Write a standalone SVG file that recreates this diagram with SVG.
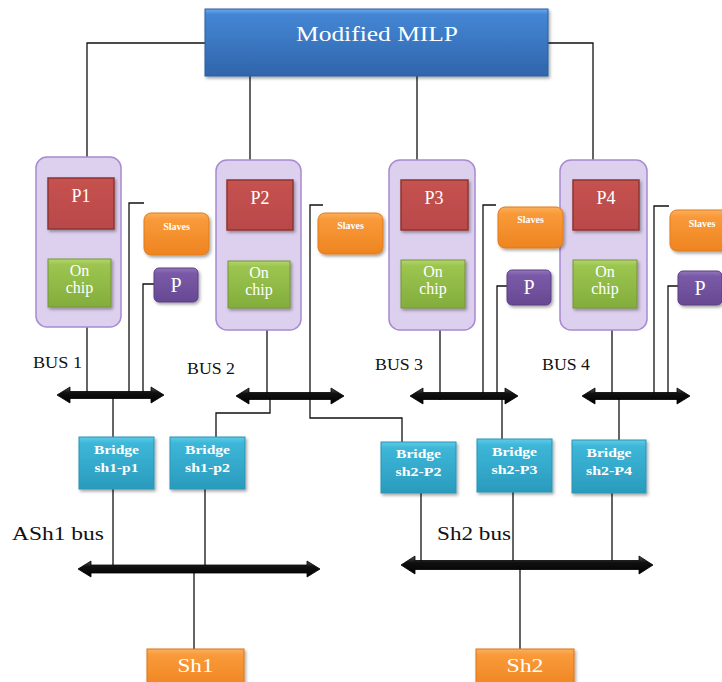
<svg xmlns="http://www.w3.org/2000/svg" width="722" height="682" viewBox="0 0 722 682">
  <defs>
    <linearGradient id="gBlue" x1="0" y1="0" x2="0" y2="1">
      <stop offset="0" stop-color="#6aa9ec"/>
      <stop offset="0.08" stop-color="#4486d4"/>
      <stop offset="1" stop-color="#2f65ab"/>
    </linearGradient>
    <linearGradient id="gRed" x1="0" y1="0" x2="0" y2="1">
      <stop offset="0" stop-color="#c6524f"/>
      <stop offset="1" stop-color="#b9494a"/>
    </linearGradient>
    <linearGradient id="gGreen" x1="0" y1="0" x2="0" y2="1">
      <stop offset="0" stop-color="#b4d56a"/>
      <stop offset="0.12" stop-color="#9cc550"/>
      <stop offset="1" stop-color="#83ad3c"/>
    </linearGradient>
    <linearGradient id="gOrange" x1="0" y1="0" x2="0" y2="1">
      <stop offset="0" stop-color="#fbb060"/>
      <stop offset="0.15" stop-color="#f99a3a"/>
      <stop offset="1" stop-color="#ee8420"/>
    </linearGradient>
    <linearGradient id="gPurple" x1="0" y1="0" x2="0" y2="1">
      <stop offset="0" stop-color="#9277bb"/>
      <stop offset="0.15" stop-color="#7a5aa8"/>
      <stop offset="1" stop-color="#674892"/>
    </linearGradient>
    <linearGradient id="gTeal" x1="0" y1="0" x2="0" y2="1">
      <stop offset="0" stop-color="#5fcbe6"/>
      <stop offset="0.12" stop-color="#3db6d8"/>
      <stop offset="1" stop-color="#2a9bbd"/>
    </linearGradient>
    <linearGradient id="gBus" x1="0" y1="0" x2="0" y2="1">
      <stop offset="0" stop-color="#555"/>
      <stop offset="0.35" stop-color="#111"/>
      <stop offset="1" stop-color="#000"/>
    </linearGradient>
    <filter id="shadow" x="-20%" y="-20%" width="140%" height="150%">
      <feDropShadow dx="1.5" dy="2" stdDeviation="1.5" flood-color="#000" flood-opacity="0.35"/>
    </filter>
  </defs>
  <style>
    .wire { fill: none; stroke: #111; stroke-width: 1.3; }
    .container { fill: #ddd0ef; stroke: #a68bcf; stroke-width: 1.5; }
    .cpu { fill: url(#gRed); stroke: #8e3533; stroke-width: 1.5; filter: url(#shadow); }
    .mem { fill: url(#gGreen); stroke: #76933a; stroke-width: 1; filter: url(#shadow); }
    .slave { fill: url(#gOrange); stroke: #e07a1a; stroke-width: 1; filter: url(#shadow); }
    .per { fill: url(#gPurple); stroke: #5a3f82; stroke-width: 1; filter: url(#shadow); }
    .bridge { fill: url(#gTeal); stroke: #2a94b5; stroke-width: 1; filter: url(#shadow); }
    .shared { fill: url(#gOrange); stroke: #d87616; stroke-width: 1; filter: url(#shadow); }
    .bus { fill: url(#gBus); stroke: #000; stroke-width: 0.8; }
    .w { fill: #fff; font-family: "Liberation Serif", "Times New Roman", serif; text-anchor: middle; }
    .lbl { fill: #111; font-family: "Liberation Serif", "Times New Roman", serif; }
    .chip { font-size: 16px; }
    .slv { font-size: 10px; font-weight: bold; }
    .brg { font-size: 13px; font-weight: bold; }
  </style>

  <!-- connectors -->
  <g id="connectors">
    <polyline class="wire" points="205,43 87,43 87,157"/>
    <polyline class="wire" points="548,43 593,43 593,160"/>
    <line class="wire" x1="250" y1="76" x2="250" y2="160"/>
    <line class="wire" x1="417" y1="76" x2="417" y2="160"/>

    <line class="wire" x1="79" y1="229" x2="79" y2="259"/>
    <line class="wire" x1="260" y1="230" x2="260" y2="261"/>
    <line class="wire" x1="433" y1="230" x2="433" y2="260"/>
    <line class="wire" x1="607" y1="230" x2="607" y2="260"/>

    <line class="wire" x1="87" y1="327" x2="87" y2="395"/>
    <polyline class="wire" points="144,203 129,203 129,395"/>
    <polyline class="wire" points="154,284 143,284 143,395"/>

    <line class="wire" x1="267" y1="330" x2="267" y2="396"/>
    <polyline class="wire" points="323,205 310,205 310,418 402,418 402,442"/>

    <line class="wire" x1="440" y1="330" x2="440" y2="400"/>
    <polyline class="wire" points="496,205 483,205 483,396"/>
    <polyline class="wire" points="507,286 497,286 497,396"/>

    <line class="wire" x1="612" y1="330" x2="612" y2="396"/>
    <polyline class="wire" points="669,206 654,206 654,396"/>
    <polyline class="wire" points="678,286 668,286 668,396"/>

    <line class="wire" x1="113" y1="395" x2="113" y2="437"/>
    <polyline class="wire" points="270,396 270,413 216,413 216,437"/>
    <line class="wire" x1="502" y1="396" x2="502" y2="439"/>
    <line class="wire" x1="619" y1="396" x2="619" y2="440"/>

    <line class="wire" x1="113" y1="489" x2="113" y2="569"/>
    <line class="wire" x1="205" y1="489" x2="205" y2="569"/>
    <line class="wire" x1="194" y1="569" x2="194" y2="649"/>

    <line class="wire" x1="421" y1="493" x2="421" y2="565"/>
    <line class="wire" x1="513" y1="492" x2="513" y2="565"/>
    <line class="wire" x1="612" y1="493" x2="612" y2="565"/>
    <line class="wire" x1="520" y1="565" x2="520" y2="649"/>

    <!-- double-headed bus arrows -->
    <polygon class="bus" points="57,395 70,387 70,391.5 151,391.5 151,387 164,395 151,403 151,398.5 70,398.5 70,403"/>
    <polygon class="bus" points="236,396 249,388 249,392.5 331,392.5 331,388 344,396 331,404 331,399.5 249,399.5 249,404"/>
    <polygon class="bus" points="410,396 423,388 423,392.5 505,392.5 505,388 518,396 505,404 505,399.5 423,399.5 423,404"/>
    <polygon class="bus" points="582,396 595,388 595,392.5 677,392.5 677,388 690,396 677,404 677,399.5 595,399.5 595,404"/>
    <polygon class="bus" points="78,569 91,561 91,565 307,565 307,561 320,569 307,577 307,573 91,573 91,577"/>
    <polygon class="bus" points="401,565 415,556 415,560.5 639,560.5 639,556 653,565 639,574 639,569.5 415,569.5 415,574"/>
  </g>

  <!-- bus labels -->
  <text class="lbl" x="33" y="368" font-size="17" textLength="49" lengthAdjust="spacingAndGlyphs">BUS 1</text>
  <text class="lbl" x="187" y="374" font-size="17" textLength="48" lengthAdjust="spacingAndGlyphs">BUS 2</text>
  <text class="lbl" x="375" y="370" font-size="17" textLength="48" lengthAdjust="spacingAndGlyphs">BUS 3</text>
  <text class="lbl" x="542" y="370" font-size="17" textLength="48" lengthAdjust="spacingAndGlyphs">BUS 4</text>
  <text class="lbl" x="12" y="540" font-size="19" textLength="92" lengthAdjust="spacingAndGlyphs">ASh1 bus</text>
  <text class="lbl" x="437" y="540" font-size="19" textLength="74" lengthAdjust="spacingAndGlyphs">Sh2 bus</text>

  <!-- top-level solver -->
  <g id="milp">
    <rect x="205" y="9" width="343" height="67" fill="url(#gBlue)" stroke="#2d5f9e" stroke-width="1" filter="url(#shadow)"/>
    <text class="w" x="377" y="41" font-size="21" textLength="162" lengthAdjust="spacingAndGlyphs">Modified MILP</text>
  </g>

  <!-- processor clusters -->
  <g id="cluster1">
    <rect class="container" x="36" y="157" width="85" height="170" rx="11"/>
    <rect class="cpu" x="48" y="178" width="66" height="51"/>
    <text class="w" x="81" y="202" font-size="18">P1</text>
    <rect class="mem" x="48" y="259" width="63" height="48"/>
    <text class="w chip" x="79.5" y="276">On</text>
    <text class="w chip" x="79.5" y="293">chip</text>
  </g>
  <g id="cluster2">
    <rect class="container" x="216" y="160" width="85" height="170" rx="11"/>
    <rect class="cpu" x="227" y="180" width="66" height="50"/>
    <text class="w" x="260" y="204" font-size="18">P2</text>
    <rect class="mem" x="228" y="261" width="62" height="47"/>
    <text class="w chip" x="259" y="278">On</text>
    <text class="w chip" x="259" y="295">chip</text>
  </g>
  <g id="cluster3">
    <rect class="container" x="389" y="160" width="86" height="170" rx="11"/>
    <rect class="cpu" x="401" y="180" width="67" height="50"/>
    <text class="w" x="434" y="204" font-size="18">P3</text>
    <rect class="mem" x="401" y="260" width="64" height="48"/>
    <text class="w chip" x="433" y="277">On</text>
    <text class="w chip" x="433" y="294">chip</text>
  </g>
  <g id="cluster4">
    <rect class="container" x="560" y="160" width="87" height="170" rx="11"/>
    <rect class="cpu" x="573" y="180" width="66" height="50"/>
    <text class="w" x="606" y="204" font-size="18">P4</text>
    <rect class="mem" x="573" y="260" width="64" height="48"/>
    <text class="w chip" x="605" y="277">On</text>
    <text class="w chip" x="605" y="294">chip</text>
  </g>

  <!-- slave blocks -->
  <g id="slaves1">
    <rect class="slave" x="144" y="213" width="65" height="42" rx="7"/>
    <text class="w slv" x="176.5" y="230">Slaves</text>
  </g>
  <g id="slaves2">
    <rect class="slave" x="318" y="213" width="65" height="41" rx="7"/>
    <text class="w slv" x="350.5" y="229">Slaves</text>
  </g>
  <g id="slaves3">
    <rect class="slave" x="498" y="207" width="65" height="41" rx="7"/>
    <text class="w slv" x="530.5" y="223">Slaves</text>
  </g>
  <g id="slaves4">
    <rect class="slave" x="670" y="210" width="65" height="41" rx="7"/>
    <text class="w slv" x="702" y="227">Slaves</text>
  </g>

  <!-- peripheral blocks -->
  <g id="per1">
    <rect class="per" x="154" y="268" width="44" height="34" rx="5"/>
    <text class="w" x="176" y="292" font-size="20">P</text>
  </g>
  <g id="per3">
    <rect class="per" x="507" y="270" width="44" height="35" rx="5"/>
    <text class="w" x="529" y="294" font-size="20">P</text>
  </g>
  <g id="per4">
    <rect class="per" x="678" y="271" width="44" height="34" rx="5"/>
    <text class="w" x="700" y="295" font-size="20">P</text>
  </g>

  <!-- bridges -->
  <g id="bridge-sh1-p1">
    <rect class="bridge" x="79" y="437" width="75" height="52"/>
    <text class="w brg" x="116.5" y="454" textLength="45" lengthAdjust="spacingAndGlyphs">Bridge</text>
    <text class="w brg" x="116.5" y="472" textLength="44" lengthAdjust="spacingAndGlyphs">sh1-p1</text>
  </g>
  <g id="bridge-sh1-p2">
    <rect class="bridge" x="170" y="437" width="75" height="52"/>
    <text class="w brg" x="207.5" y="454" textLength="45" lengthAdjust="spacingAndGlyphs">Bridge</text>
    <text class="w brg" x="207.5" y="472" textLength="45" lengthAdjust="spacingAndGlyphs">sh1-p2</text>
  </g>
  <g id="bridge-sh2-P2">
    <rect class="bridge" x="381" y="442" width="75" height="51"/>
    <text class="w brg" x="418.5" y="458" textLength="45" lengthAdjust="spacingAndGlyphs">Bridge</text>
    <text class="w brg" x="418.5" y="476" textLength="46" lengthAdjust="spacingAndGlyphs">sh2-P2</text>
  </g>
  <g id="bridge-sh2-P3">
    <rect class="bridge" x="477" y="439" width="75" height="53"/>
    <text class="w brg" x="514.5" y="456" textLength="45" lengthAdjust="spacingAndGlyphs">Bridge</text>
    <text class="w brg" x="514.5" y="474" textLength="46" lengthAdjust="spacingAndGlyphs">sh2-P3</text>
  </g>
  <g id="bridge-sh2-P4">
    <rect class="bridge" x="572" y="440" width="74" height="53"/>
    <text class="w brg" x="609" y="457" textLength="45" lengthAdjust="spacingAndGlyphs">Bridge</text>
    <text class="w brg" x="609" y="475" textLength="46" lengthAdjust="spacingAndGlyphs">sh2-P4</text>
  </g>

  <!-- shared memories -->
  <g id="sh1">
    <rect class="shared" x="147" y="649" width="97" height="40"/>
    <text class="w" x="195.5" y="672" font-size="19" textLength="36" lengthAdjust="spacingAndGlyphs">Sh1</text>
  </g>
  <g id="sh2">
    <rect class="shared" x="476" y="649" width="98" height="40"/>
    <text class="w" x="525" y="672" font-size="19" textLength="37" lengthAdjust="spacingAndGlyphs">Sh2</text>
  </g>
</svg>
